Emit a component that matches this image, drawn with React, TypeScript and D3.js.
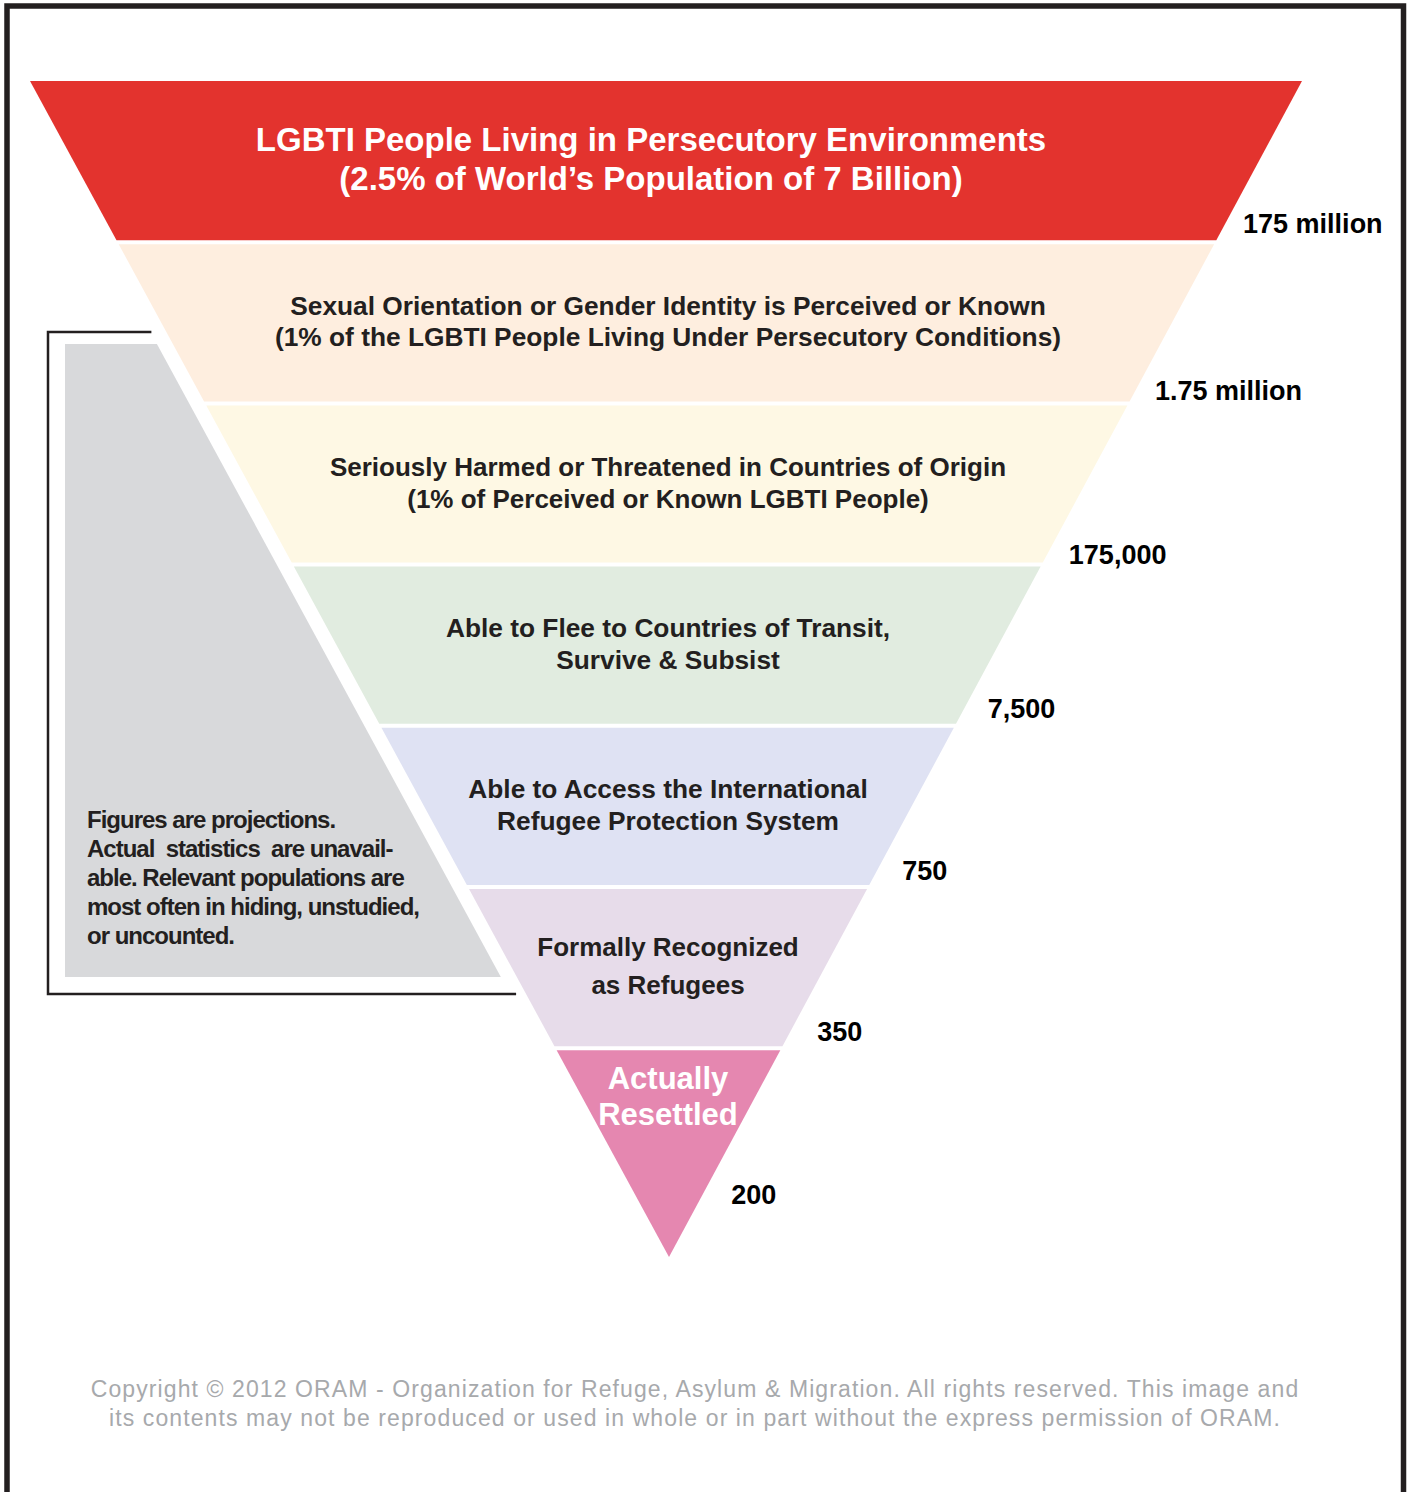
import React from 'react';
import * as d3 from 'd3';

// funnel stages, top to bottom
const stageLines: string[][] = [
  ['LGBTI People Living in Persecutory Environments', '(2.5% of World\u2019s Population of 7 Billion)'],
  ['Sexual Orientation or Gender Identity is Perceived or Known', '(1% of the LGBTI People Living Under Persecutory Conditions)'],
  ['Seriously Harmed or Threatened in Countries of Origin', '(1% of Perceived or Known LGBTI People)'],
  ['Able to Flee to Countries of Transit,', 'Survive & Subsist'],
  ['Able to Access the International', 'Refugee Protection System'],
  ['Formally Recognized', 'as Refugees'],
  ['Actually', 'Resettled'],
];
const stageValues = ['175 million', '1.75 million', '175,000', '7,500', '750', '350', '200'];
const stageColors = ['#e3332e', '#feeedf', '#fef8e4', '#e1ece0', '#dfe2f3', '#e7dcea', '#e587b0'];

const noteLines = [
  'Figures are projections.',
  'Actual  statistics  are unavail-',
  'able. Relevant populations are',
  'most often in hiding, unstudied,',
  'or uncounted.',
];
const copyrightLines = [
  'Copyright \u00a9 2012 ORAM - Organization for Refuge, Asylum & Migration. All rights reserved. This image and',
  'its contents may not be reproduced or used in whole or in part without the express permission of ORAM.',
];

const W = 1412;
const H = 1492;
const FONT = '"Liberation Sans", Arial, Helvetica, sans-serif';
const DARK = '#231f20';

export default function App() {
  const top = 81;
  const tip = 1257;
  const gap = 4;
  const n = stageLines.length;

  // funnel edges
  const xLeft = d3.scaleLinear().domain([top, tip]).range([30, 669]);
  const xRight = d3.scaleLinear().domain([top, tip]).range([1302, 669]);
  // band boundaries (last band runs down to the tip)
  const yBand = d3.scaleLinear().domain([0, n - 1]).range([top, 1048.2]);

  const fontSizes = [33, 26.3, 26, 26.3, 26.3, 26, 31];
  const lineGaps = [39, 31, 32, 32, 32, 38, 36];
  // small nudges of the value labels above each band's lower edge
  const valueDy = [-7, -1, 1, -6, -5, -5];

  const line = d3.line<[number, number]>();

  const bands = stageLines.map((lines, i) => {
    const y0 = i === 0 ? top : yBand(i) + gap / 2;
    const y1 = i === n - 1 ? tip : yBand(i + 1) - gap / 2;
    const pts: [number, number][] =
      i === n - 1
        ? [[xLeft(y0), y0], [xRight(y0), y0], [xLeft(y1), y1]]
        : [[xLeft(y0), y0], [xRight(y0), y0], [xRight(y1), y1], [xLeft(y1), y1]];
    const cy = i === n - 1 ? y0 + 47 : (y0 + y1) / 2;
    const cx = i === 0 ? 651 : 668;
    const valueY = i === n - 1 ? tip - 53 : y1 + valueDy[i];
    return { lines, i, y0, y1, d: line(pts) + 'Z', cy, cx, valueY };
  });

  // grey note panel, parallel to the funnel's left edge
  const noteTop = 344;
  const noteBottom = 977;
  const notePts: [number, number][] = [
    [65, noteTop],
    [xLeft(noteTop) - 16, noteTop],
    [xLeft(noteBottom) - 16, noteBottom],
    [65, noteBottom],
  ];
  const bracketTop = 332;
  const bracketBottom = 994;
  const bracketPts: [number, number][] = [
    [xLeft(bracketTop) - 15, bracketTop],
    [48, bracketTop],
    [48, bracketBottom],
    [xLeft(bracketBottom) - 10, bracketBottom],
  ];

  return (
    <svg
      width={W}
      height={H}
      style={{ position: 'absolute', left: 0, top: 0, background: '#fff' }}
      fontFamily={FONT}
    >
      <rect x={0} y={0} width={W} height={H} fill="#fff" />
      <rect x={7} y={6} width={1396.5} height={H + 40} fill="none" stroke={DARK} strokeWidth={5.5} />

      <path d={line(notePts) + 'Z'} fill="#d8d9db" />
      <path d={line(bracketPts) ?? ''} fill="none" stroke={DARK} strokeWidth={2.5} />
      <g fill={DARK} fontSize={24} fontWeight="bold" letterSpacing={-1}>
        {noteLines.map((t, k) => (
          <text key={k} x={87} y={828 + k * 29} xmlSpace="preserve" style={{ whiteSpace: 'pre' }}>
            {t}
          </text>
        ))}
      </g>

      {bands.map(b => (
        <g key={b.i}>
          <path d={b.d} fill={stageColors[b.i]} />
          {b.lines.map((t, k) => {
            const fs = fontSizes[b.i];
            const y = b.cy + (k - (b.lines.length - 1) / 2) * lineGaps[b.i] + 0.3 * fs;
            return (
              <text
                key={k}
                x={b.cx}
                y={y}
                textAnchor="middle"
                fontSize={fs}
                fontWeight="bold"
                fill={b.i === 0 || b.i === n - 1 ? '#fff' : DARK}
              >
                {t}
              </text>
            );
          })}
          <text
            x={xRight(b.valueY) + 23 + 1.8 * b.i}
            y={b.valueY}
            fontSize={27}
            fontWeight="bold"
            fill="#000"
          >
            {stageValues[b.i]}
          </text>
        </g>
      ))}

      <g fill="#a7a9ac" fontSize={23} letterSpacing={1.1} textAnchor="middle">
        {copyrightLines.map((t, k) => (
          <text key={k} x={695} y={1397 + k * 29}>{t}</text>
        ))}
      </g>
    </svg>
  );
}
